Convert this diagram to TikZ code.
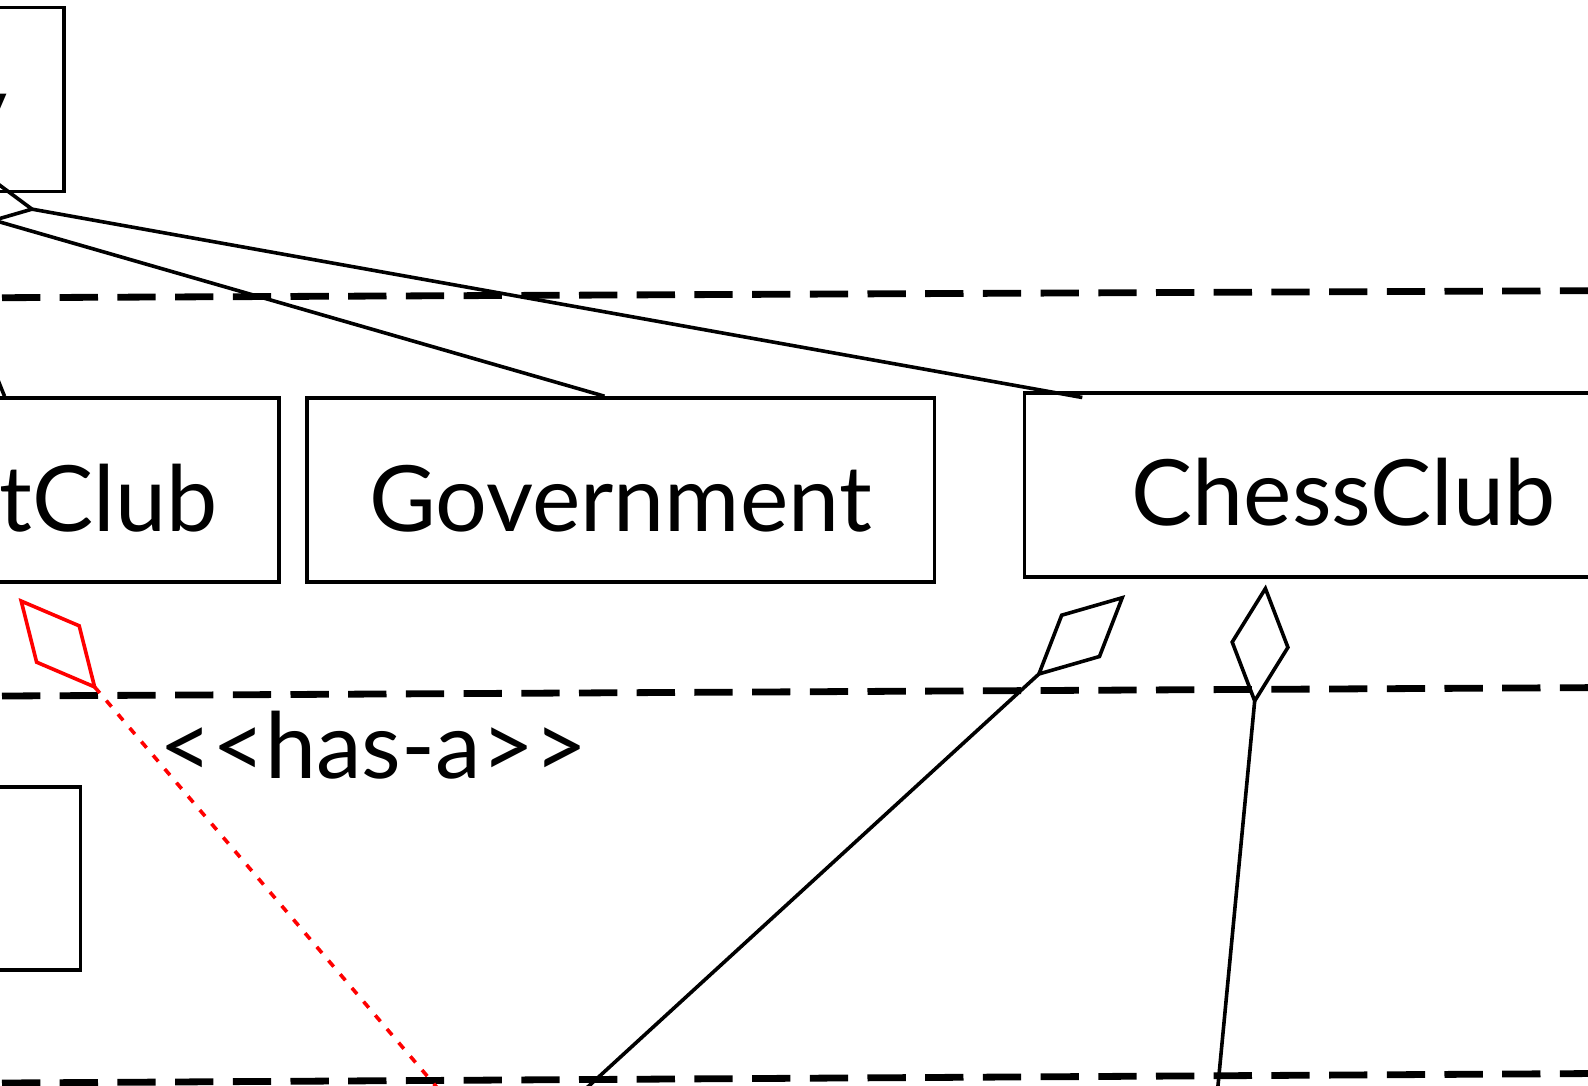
\documentclass[tikz,border=0pt]{standalone}
\usepackage{fontspec}
\setmainfont{Lato}
\usetikzlibrary{arrows.meta,calc,positioning}

\tikzset{
  cls/.style={draw, line width=3.6pt, minimum height=184pt, inner xsep=0pt,
    text height=82pt, text depth=0pt, font=\fontsize{91.5}{100}\selectfont},
  assoc/.style={draw, line width=3.6pt},
  agg/.style={assoc, {Diamond[open,length=121pt,width=60pt]}-},
  tier/.style={line width=6.8pt, dash pattern=on 38.3pt off 19.4pt},
}

\begin{document}
\begin{tikzpicture}[x=1pt,y=-1pt]
  \useasboundingbox (0,0) rectangle (1588,1085);
  \clip (0,0) rectangle (1588,1085);

  % tier separators
  \draw[tier] (2,297.7) -- (1630,290.5);
  \draw[tier] (2,696.0) -- (1630,687.4);
  \draw[tier] (2,1083.0) -- (1630,1073.3);

  % classes
  \node[cls, anchor=east, inner xsep=56pt]     (city)    at (65.7,99.5)    {City};
  \node[cls, anchor=east, inner xsep=62pt]     (sport)   at (281,490)      {SportClub};
  \node[cls, minimum width=627.6pt]            (gov)     at (620.5,490)    {Government};
  \node[cls, anchor=west, minimum width=638pt] (chess)   at (1022.7,484.7) {ChessClub};
  \node[cls, anchor=east, minimum width=300pt, minimum height=182.7pt] (leftcls) at (82.3,878.6) {};

  \node[anchor=base west, inner sep=0pt, font=\fontsize{91.5}{100}\selectfont]
    (hasa) at (159,778.3) {<{}<has-a>{}>};

  % loose ends
  \coordinate (city chess) at (-83.1,188.5);
  \coordinate (city gov)   at (-40,210.5);
  \coordinate (city sport) at (-78,191);
  \coordinate (sport agg)  at (18.6,598);
  \coordinate (red end)    at (487,1146);
  \coordinate (chess agg 1) at (1125.2,595);
  \coordinate (chess end 1) at (446,1216.7);
  \coordinate (chess agg 2) at (1265.8,584.5);
  \coordinate (chess end 2) at (1206.8,1202.7);

  % associations
  \draw[agg] (city chess) -- ($(chess.north west)+(59.6,6.6)$);
  \draw[assoc] (city gov) -- ($(gov.north)+(-16,0)$);
  \draw[assoc] (city sport) -- (sport.north west -| 4.5,0);
  \draw[agg, red, dash pattern=on 8pt off 10pt] (sport agg) -- (red end);
  \draw[agg] (chess agg 1) -- (chess end 1);
  \draw[agg] (chess agg 2) -- (chess end 2);
\end{tikzpicture}
\end{document}
